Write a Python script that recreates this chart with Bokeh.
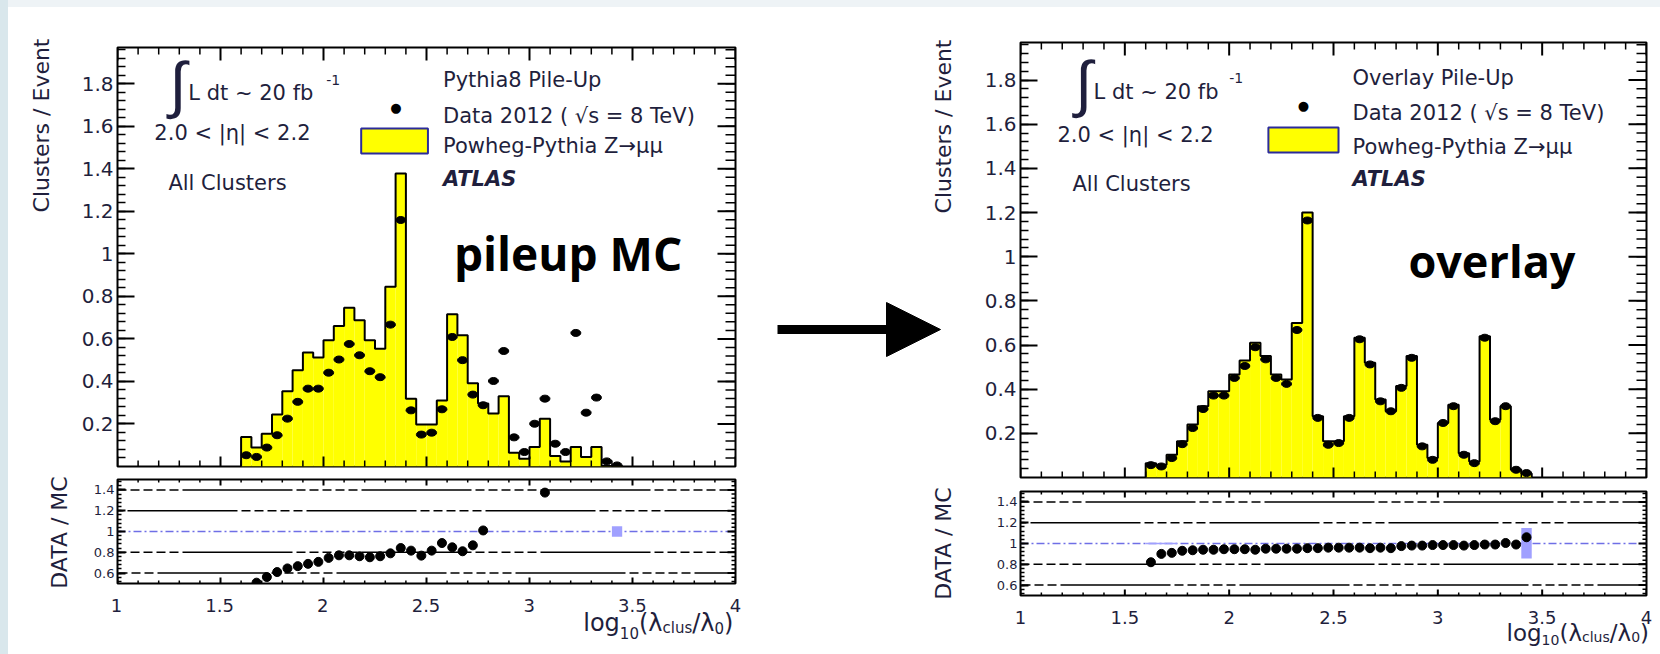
import numpy as np
from bokeh.plotting import figure
from bokeh.models import (Range1d, FixedTicker, CustomJSTickFormatter, Label, Span, Arrow,
                          NormalHead, BoxAnnotation)
from bokeh.layouts import row, column
from bokeh.embed import file_html
from bokeh.resources import INLINE

# ---------------- data ----------------
BIN_LO = [1.60, 1.65, 1.70, 1.75, 1.80, 1.85, 1.90, 1.95, 2.00, 2.05, 2.10, 2.15,
          2.20, 2.25, 2.30, 2.35, 2.40, 2.45, 2.50, 2.55, 2.60, 2.65, 2.70, 2.75,
          2.80, 2.85, 2.90, 2.95, 3.00, 3.05, 3.10, 3.15, 3.20, 3.25, 3.30, 3.35, 3.40]
BIN_W = 0.05

PILEUP_MC = [0.139, 0.089, 0.154, 0.245, 0.354, 0.453, 0.536, 0.512, 0.594, 0.661, 0.746, 0.688,
             0.594, 0.554, 0.845, 1.378, 0.319, 0.197, 0.197, 0.310, 0.716, 0.617, 0.392, 0.296,
             0.249, 0.330, 0.065, 0.037, 0.092, 0.225, 0.049, 0.024, 0.092, 0.045, 0.092, 0.002, 0.002]
PILEUP_DATA = [0.053, 0.045, 0.089, 0.147, 0.225, 0.304, 0.366, 0.366, 0.441, 0.503, 0.576, 0.523,
               0.448, 0.420, 0.667, 1.159, 0.264, 0.150, 0.159, 0.269, 0.609, 0.500, 0.338, 0.288,
               0.402, 0.543, 0.137, 0.068, 0.201, 0.319, 0.107, 0.068, 0.628, 0.253, 0.324, 0.024, 0.005]
PILEUP_RATIO_X = [1.675, 1.725, 1.775, 1.825, 1.875, 1.925, 1.975, 2.025, 2.075, 2.125, 2.175, 2.225,
                  2.275, 2.325, 2.375, 2.425, 2.475, 2.525, 2.575, 2.625, 2.675, 2.725, 2.775, 3.075]
PILEUP_RATIO = [0.508, 0.562, 0.610, 0.645, 0.667, 0.689, 0.708, 0.746, 0.771, 0.771, 0.762, 0.752,
                0.762, 0.790, 0.841, 0.816, 0.768, 0.816, 0.889, 0.848, 0.810, 0.867, 1.010, 1.374]
PILEUP_BAND_LO = [3.40]
PILEUP_BAND_BOT = [0.95]
PILEUP_BAND_TOP = [1.05]

OVERLAY_MC = [0.065, 0.058, 0.103, 0.164, 0.240, 0.323, 0.391, 0.391, 0.467, 0.530, 0.610, 0.550,
              0.467, 0.444, 0.700, 1.200, 0.277, 0.164, 0.164, 0.277, 0.633, 0.520, 0.353, 0.300,
              0.414, 0.550, 0.148, 0.088, 0.247, 0.330, 0.110, 0.073, 0.640, 0.262, 0.323, 0.035, 0.018]
OVERLAY_DATA = [0.056, 0.050, 0.088, 0.151, 0.224, 0.310, 0.371, 0.371, 0.451, 0.505, 0.590, 0.535,
                0.451, 0.424, 0.668, 1.164, 0.270, 0.148, 0.156, 0.270, 0.626, 0.512, 0.345, 0.300,
                0.406, 0.542, 0.141, 0.080, 0.247, 0.323, 0.103, 0.065, 0.633, 0.255, 0.323, 0.035, 0.020]
OVERLAY_RATIO = [0.82, 0.90, 0.91, 0.93, 0.935, 0.94, 0.94, 0.945, 0.945, 0.945, 0.94, 0.95,
                 0.95, 0.95, 0.95, 0.955, 0.955, 0.96, 0.96, 0.96, 0.96, 0.955, 0.96, 0.955,
                 0.975, 0.98, 0.98, 0.985, 0.985, 0.985, 0.98, 0.985, 0.99, 0.99, 1.005, 0.99, 1.06]
OVERLAY_BAND_LO = [1.60, 1.65, 1.70, 3.40]
OVERLAY_BAND_BOT = [0.992, 0.992, 0.992, 0.855]
OVERLAY_BAND_TOP = [1.008, 1.008, 1.008, 1.148]

X_TICKS = [1, 1.5, 2, 2.5, 3, 3.5, 4]
MAIN_Y_TICKS = [0.2, 0.4, 0.6, 0.8, 1.0, 1.2, 1.4, 1.6, 1.8]
RATIO_Y_TICKS = [0.6, 0.8, 1.0, 1.2, 1.4]

# ---------------- style ----------------
TXT = "#1f1f3d"
FONT = "DejaVu Sans"
YELLOW = "#ffff00"
BAND = "#a0a0ff"
MAIN_Y = (0, 1.97)
RATIO_Y = (0.5, 1.5)

bin_hi = [b + BIN_W for b in BIN_LO]
bin_c = [b + BIN_W / 2 for b in BIN_LO]

fmt = CustomJSTickFormatter(code="return String(Math.round(tick*100)/100);")
x_minor = [round(v, 2) for v in np.arange(1.1, 4.0, 0.1) if abs(v * 2 - round(v * 2)) > 1e-6]
main_y_minor = [round(v, 2) for v in np.arange(0.04, 1.97, 0.04)]
ratio_y_minor = [round(v, 2) for v in np.arange(0.52, 1.5, 0.04)]


def style_axis(ax, ticks, minor, major_in, minor_in, label_px, standoff):
    ax.ticker = FixedTicker(ticks=ticks, minor_ticks=minor)
    ax.axis_line_color = None
    ax.major_tick_in = major_in
    ax.major_tick_out = 0
    ax.minor_tick_in = minor_in
    ax.minor_tick_out = 0
    ax.major_tick_line_color = "black"
    ax.major_tick_line_width = 2
    ax.minor_tick_line_color = "black"
    ax.minor_tick_line_width = 1.5
    ax.formatter = fmt
    ax.major_label_text_font_size = f"{label_px}px"
    ax.major_label_text_font = FONT
    ax.major_label_text_color = TXT
    ax.major_label_standoff = standoff


def edge_ticks(p, side, ticks, minor, major_len, minor_len, xr, yr):
    """inward tick marks on a frame edge without labels (half of a dash is clipped by the frame)"""
    for vals, ln, lw in [(ticks, major_len, 2), (minor, minor_len, 1.5)]:
        if side in ("top", "bottom"):
            yv = yr[1] if side == "top" else yr[0]
            p.scatter(x=vals, y=[yv] * len(vals), marker="dash", angle=np.pi / 2, size=2 * ln,
                      line_color="black", line_width=lw)
        else:
            xv = xr[1] if side == "right" else xr[0]
            p.scatter(x=[xv] * len(vals), y=vals, marker="dash", angle=0, size=2 * ln,
                      line_color="black", line_width=lw)


def blank_fig(w, h, xr, yr):
    p = figure(width=w, height=h, x_range=Range1d(*xr), y_range=Range1d(*yr), title=None,
               output_backend="svg", toolbar_location=None, tools="",
               x_axis_location=None, y_axis_location=None, min_border=0)
    p.xgrid.visible = False
    p.ygrid.visible = False
    p.outline_line_color = None
    p.background_fill_color = "white"
    p.border_fill_color = "white"
    return p


def make_fig(w, h, ml, mr, mt, mb, yr):
    p = figure(width=w, height=h, x_range=Range1d(1, 4), y_range=Range1d(*yr), title=None,
               output_backend="svg", toolbar_location=None, tools="",
               x_axis_location=None, y_axis_location="left",
               min_border_left=ml, min_border_right=mr, min_border_top=mt, min_border_bottom=mb)
    p.xgrid.visible = False
    p.ygrid.visible = False
    p.outline_line_color = "black"
    p.outline_line_width = 2
    p.background_fill_color = "white"
    p.border_fill_color = "white"
    return p


def lab(p, x, y, text, size=21, color=TXT, align="left", baseline="alphabetic",
        font=FONT, style="normal", angle=0):
    p.add_layout(Label(x=x, y=y, text=text, text_font=font, text_font_size=f"{size}px",
                       text_color=color, text_align=align, text_baseline=baseline,
                       text_font_style=style, angle=angle))


def main_panel(p, mc, data):
    style_axis(p.left[0], MAIN_Y_TICKS, main_y_minor, 17, 8, 20, 4)
    p.quad(left=BIN_LO, right=bin_hi, bottom=0, top=mc, fill_color=YELLOW, line_color=None)
    xs = [BIN_LO[0]] + BIN_LO + [bin_hi[-1]]
    ys = [0] + list(mc) + [0]
    p.step(x=xs, y=ys, mode="after", line_color="black", line_width=2)
    p.ellipse(x=bin_c, y=data, width=10, height=7, width_units="screen", height_units="screen",
              fill_color="black", line_color="black")
    edge_ticks(p, "top", X_TICKS, x_minor, 13, 7, (1, 4), MAIN_Y)
    edge_ticks(p, "bottom", X_TICKS, x_minor, 10, 6, (1, 4), MAIN_Y)
    edge_ticks(p, "right", MAIN_Y_TICKS, main_y_minor, 18, 10, (1, 4), MAIN_Y)


def ratio_panel(p, rx, ry, band_lo, band_bot, band_top):
    style_axis(p.left[0], RATIO_Y_TICKS, ratio_y_minor, 8, 4, 13, 3)
    for v, off in [(1.4, 0), (1.2, 55), (0.8, 0), (0.6, 25)]:
        p.add_layout(Span(location=v, dimension="width", line_color="black", line_width=1.5,
                          line_dash="9 4 9 4 9 4 9 4 9 4 110 4", line_dash_offset=off,
                          level="underlay"))
    p.add_layout(Span(location=1.0, dimension="width", line_color="#6f6fe6", line_width=1.5,
                      line_dash="8 3 2 3", level="underlay"))
    p.quad(left=band_lo, right=[b + BIN_W for b in band_lo], bottom=band_bot, top=band_top,
           fill_color=BAND, line_color=None)
    p.scatter(x=rx, y=ry, size=9, color="black")
    edge_ticks(p, "top", X_TICKS, x_minor, 6, 3, (1, 4), RATIO_Y)
    edge_ticks(p, "bottom", X_TICKS, x_minor, 6, 3, (1, 4), RATIO_Y)
    edge_ticks(p, "right", RATIO_Y_TICKS, ratio_y_minor, 8, 4, (1, 4), RATIO_Y)


# char widths (em) for DejaVu Sans, used to chain the axis title pieces
CW = {"l": .278, "o": .612, "g": .635, "1": .636, "0": .636, "(": .390, "λ": .592,
      "c": .550, "u": .634, "s": .521, "/": .337, ")": .390}


def bottom_fig(w, h, ml, mr, frame_w, tick_from_top, x_right, title_from_top, big, small, d1, d2):
    """strip under a ratio panel: x tick labels and the x axis title"""
    ppu = frame_w / 3.0
    p = blank_fig(w, h, (1 - ml / ppu, 4 + mr / ppu), (0, h))
    for t in X_TICKS:
        p.add_layout(Label(x=t, y=h - tick_from_top, text=f"{t:g}", text_font=FONT,
                           text_font_size="18px", text_color=TXT, text_align="center",
                           text_baseline="alphabetic"))
    pieces = [("log", big, 0), ("10", small, d1), ("(λ", big, 0), ("clus", small, d2),
              ("/λ", big, 0), ("0", small, d2), (")", big, 0)]
    widths = [sum(CW[c] for c in t) * s for t, s, _ in pieces]
    off = -sum(widths)
    for (t, s, dy), wd in zip(pieces, widths):
        p.add_layout(Label(x=x_right, y=h - title_from_top, x_offset=off, y_offset=dy, text=t,
                           text_font=FONT, text_font_size=f"{s}px", text_color=TXT,
                           text_align="left", text_baseline="alphabetic"))
        off += wd
    return p


# ---------------- left strip: y titles of the left panel ----------------
lstrip = blank_fig(70, 638, (0, 70), (0, 638))
lab(lstrip, 33, 608, "Clusters / Event", size=22, align="right", angle=np.pi / 2)
lab(lstrip, 51, 114, "DATA / MC", size=22, align="center", angle=np.pi / 2)

# ---------------- left: pileup MC ----------------
lm = make_fig(690, 463, 38, 33, 39, 5, MAIN_Y)
main_panel(lm, PILEUP_MC, PILEUP_DATA)
lab(lm, 1.293, 1.796, "∫", size=62, baseline="middle", font="Liberation Sans", align="center")
lab(lm, 1.344, 1.758, "L dt ~ 20 fb")
lab(lm, 2.013, 1.815, "-1", size=14)
lab(lm, 1.179, 1.566, "2.0 < |η| < 2.2")
lab(lm, 1.247, 1.335, "All Clusters")
lab(lm, 2.58, 1.815, "Pythia8 Pile-Up")
lab(lm, 2.58, 1.650, "Data 2012 ( √s = 8 TeV)")
lab(lm, 2.58, 1.509, "Powheg-Pythia Z→μμ")
lab(lm, 2.58, 1.354, "ATLAS", style="bold italic")
lab(lm, 2.352, 1.688, "●", size=13, color="black", align="center", baseline="middle")
lm.add_layout(BoxAnnotation(left=2.183, right=2.507, bottom=1.472, top=1.589,
                            fill_color=YELLOW, fill_alpha=1, line_color="#2b2b9a",
                            line_alpha=1, line_width=2))
lab(lm, 2.633, 1.006, "pileup MC", size=46, color="black", font="Open Sans", style="bold")

lr = make_fig(690, 114, 38, 33, 8, 2, RATIO_Y)
ratio_panel(lr, PILEUP_RATIO_X, PILEUP_RATIO, PILEUP_BAND_LO, PILEUP_BAND_BOT, PILEUP_BAND_TOP)

lb = bottom_fig(690, 61, 38, 33, 619, 20, 3.99, 37, 24, 15, -10, -5)

# ---------------- middle: arrow + y titles of the right panel ----------------
mid = blank_fig(190, 638, (0, 190), (0, 638))
mid.add_layout(Arrow(end=NormalHead(size=54, fill_color="black", line_color="black"),
                     x_start=9, y_start=317, x_end=172, y_end=317,
                     line_color="black", line_width=9))
lab(mid, 175, 607, "Clusters / Event", size=22, align="right", angle=np.pi / 2)
lab(mid, 175, 103, "DATA / MC", size=22, align="center", angle=np.pi / 2)

# ---------------- right: overlay ----------------
rm = make_fig(702, 475, 62, 14, 34, 6, MAIN_Y)
main_panel(rm, OVERLAY_MC, OVERLAY_DATA)
lab(rm, 1.302, 1.784, "∫", size=62, baseline="middle", font="Liberation Sans", align="center")
lab(rm, 1.350, 1.744, "L dt ~ 20 fb")
lab(rm, 2.000, 1.807, "-1", size=14)
lab(rm, 1.177, 1.553, "2.0 < |η| < 2.2")
lab(rm, 1.249, 1.331, "All Clusters")
lab(rm, 2.591, 1.807, "Overlay Pile-Up")
lab(rm, 2.591, 1.649, "Data 2012 ( √s = 8 TeV)")
lab(rm, 2.591, 1.499, "Powheg-Pythia Z→μμ")
lab(rm, 2.591, 1.354, "ATLAS", style="bold italic")
lab(rm, 2.356, 1.685, "●", size=13, color="black", align="center", baseline="middle")
rm.add_layout(BoxAnnotation(left=2.188, right=2.524, bottom=1.472, top=1.585,
                            fill_color=YELLOW, fill_alpha=1, line_color="#2b2b9a",
                            line_alpha=1, line_width=2))
lab(rm, 2.859, 0.983, "overlay", size=45, color="black", font="Open Sans", style="bold")

rr = make_fig(702, 114, 62, 14, 8, 2, RATIO_Y)
ratio_panel(rr, bin_c, OVERLAY_RATIO, OVERLAY_BAND_LO, OVERLAY_BAND_BOT, OVERLAY_BAND_TOP)

rb = bottom_fig(702, 49, 62, 14, 626, 20, 4.012, 35, 23, 14, -7, -4)

# bottom strips are kept out of the plot columns so their frames are not aligned to the panels
layout = row(lstrip, column(column(lm, lr), lb), mid, column(column(rm, rr), rb))

html = file_html(layout, INLINE)
html = html.replace("</head>", "<style>html,body{margin:0 !important;}"
                    "body{padding:8px 0 8px 8px !important;box-sizing:border-box !important;"
                    "background:linear-gradient(to right,#d9e7ec 8px,rgba(0,0,0,0) 8px),"
                    "linear-gradient(to bottom,#eef3f6 7px,#ffffff 7px) !important;}</style></head>", 1)
open("out.html", "w").write(html)
